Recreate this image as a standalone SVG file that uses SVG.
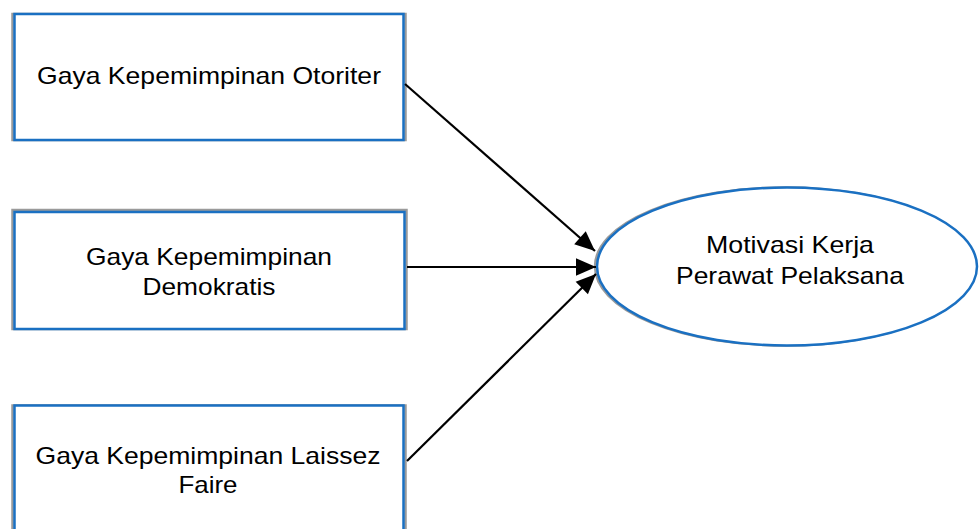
<svg xmlns="http://www.w3.org/2000/svg" width="979" height="529" viewBox="0 0 979 529">
<defs>
<style>
.sh{fill:none;stroke:#9a9a9a;stroke-width:2.5}
.bx{fill:#fff;stroke:#1a70c2;stroke-width:2.5}
.t{font-family:"Liberation Sans",Arial,sans-serif;font-size:24px;fill:#000;text-anchor:middle}
.c{stroke:#000;stroke-width:2.2;fill:none;marker-end:url(#ah)}
</style>
<marker id="ah" markerWidth="10" markerHeight="10" refX="8" refY="4" orient="auto" markerUnits="userSpaceOnUse" viewBox="0 0 8 8" overflow="visible">
<path d="M0,0.5 L8,4 L0,7.5 z" fill="#000" transform="scale(2)" transform-origin="8 4"/>
</marker>
</defs>
<rect width="979" height="529" fill="#fff"/>
<g id="node1">
<rect class="sh" x="12.5" y="14" width="393" height="126"/>
<rect class="bx" x="14.5" y="14" width="389" height="126"/>
<text class="t" x="209" y="83.5" textLength="344" lengthAdjust="spacingAndGlyphs">Gaya Kepemimpinan Otoriter</text>
</g>
<g id="node2">
<rect class="sh" x="12.5" y="210" width="394" height="119"/>
<rect class="bx" x="14.5" y="212" width="390" height="117"/>
<text class="t" x="209" y="265" textLength="246" lengthAdjust="spacingAndGlyphs">Gaya Kepemimpinan</text>
<text class="t" x="209" y="295" textLength="133" lengthAdjust="spacingAndGlyphs">Demokratis</text>
</g>
<g id="node3">
<rect class="sh" x="12.5" y="405.5" width="393" height="140"/>
<rect class="bx" x="14.5" y="405.5" width="389" height="140"/>
<text class="t" x="208" y="464" textLength="345" lengthAdjust="spacingAndGlyphs">Gaya Kepemimpinan Laissez</text>
<text class="t" x="208" y="493" textLength="59" lengthAdjust="spacingAndGlyphs">Faire</text>
</g>
<g id="node4">
<ellipse class="sh" cx="785" cy="266.5" rx="190" ry="79"/>
<ellipse class="bx" cx="787" cy="266.5" rx="190" ry="79"/>
<text class="t" x="790" y="253" textLength="168" lengthAdjust="spacingAndGlyphs">Motivasi Kerja</text>
<text class="t" x="790" y="284" textLength="228" lengthAdjust="spacingAndGlyphs">Perawat Pelaksana</text>
</g>
<g id="connectors">
<line class="c" x1="405" y1="84" x2="595" y2="251"/>
<line class="c" x1="407" y1="267" x2="596" y2="267"/>
<line class="c" x1="407" y1="461" x2="596" y2="274"/>
</g>
</svg>
